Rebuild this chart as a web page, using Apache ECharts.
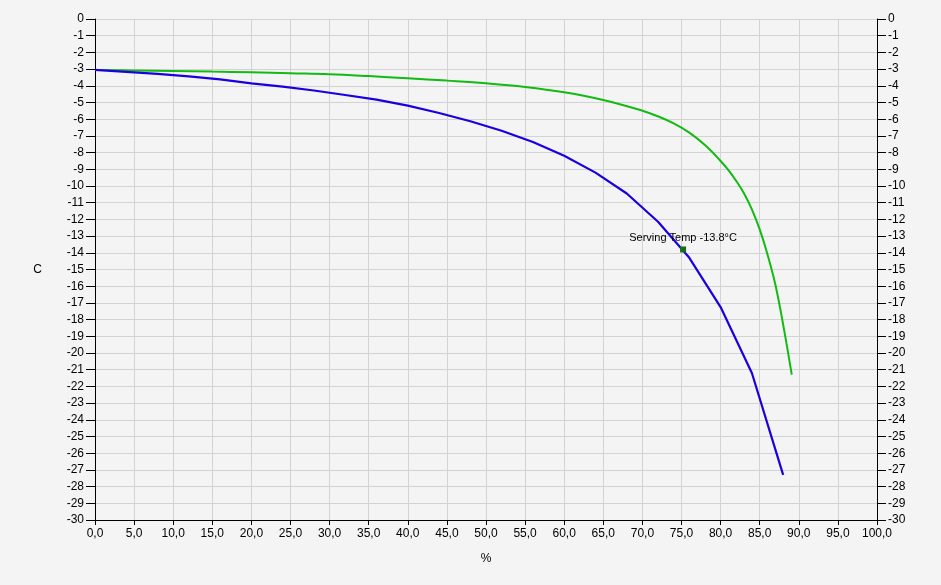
<!DOCTYPE html>
<html><head><meta charset="utf-8">
<script src="https://cdn.jsdelivr.net/npm/echarts@6/dist/echarts.min.js"></script>
<style>html,body{margin:0;padding:0;background:#f4f4f4;}#c{width:941px;height:585px;}</style>
</head><body><div id="c"></div>
<script>
const blueX = [0,4,8,12,16,20,24,28,32,36,40,44,48,52,56,60,64,68,72,76,80,84,88];
const blueY = [-3.05,-3.17,-3.29,-3.44,-3.62,-3.85,-4.05,-4.28,-4.55,-4.83,-5.19,-5.63,-6.12,-6.69,-7.36,-8.19,-9.2,-10.45,-12.14,-14.3,-17.25,-21.2,-27.3];
const greenX = [0,5,10,15,20,25,30,35,40,45,50,55,60,65,70,72,74,76,78,80,81,82,83,84,85,86,87,88,89.1];
const greenY = [-3.05,-3.08,-3.11,-3.15,-3.19,-3.25,-3.31,-3.42,-3.55,-3.69,-3.85,-4.07,-4.39,-4.85,-5.49,-5.83,-6.25,-6.8,-7.55,-8.5,-9.05,-9.7,-10.45,-11.4,-12.6,-14.1,-15.9,-18.3,-21.3];
const servingX = 75.2;
const servingY = -13.8;
const servingLabel = 'Serving Temp -13.8°C';
const xAxisName = '%';
const yAxisName = 'C';

const chart = echarts.init(document.getElementById('c'), null, {renderer:'canvas'});
const font = 'Liberation Sans';
const yAxisCommon = {
  type:'value', min:-30, max:0, interval:1,
  axisLine:{show:true, lineStyle:{color:'#000', width:1}},
  axisTick:{show:true, length:9, lineStyle:{color:'#000'}},
  axisLabel:{color:'#000', fontFamily:font, fontSize:12, margin:11},
};
chart.setOption({
  backgroundColor:'#f4f4f4',
  animation:false,
  grid:{left:95, right:64, top:19, bottom:65, containLabel:false},
  xAxis:{
    type:'value', min:0, max:100, interval:5,
    name:xAxisName, nameLocation:'middle', nameGap:33,
    nameTextStyle:{color:'#000', fontFamily:font, fontSize:12},
    axisLine:{show:true, onZero:false, lineStyle:{color:'#000'}},
    axisTick:{show:true, length:5, lineStyle:{color:'#000'}},
    axisLabel:{color:'#000', fontFamily:font, fontSize:12, margin:8,
      formatter:v=>v.toFixed(1).replace('.', ',')},
    splitLine:{show:true, lineStyle:{color:'#d3d3d3', width:1}}
  },
  yAxis:[
    Object.assign({}, yAxisCommon, {position:'left',
      name:yAxisName, nameLocation:'middle', nameGap:53, nameRotate:0,
      nameTextStyle:{color:'#000', fontFamily:font, fontSize:12},
      splitLine:{show:true, lineStyle:{color:'#d3d3d3', width:1}}}),
    Object.assign({}, yAxisCommon, {position:'right', splitLine:{show:false}})
  ],
  series:[
    {type:'line', data:greenX.map((x,i)=>[x,greenY[i]]), smooth:0.4, showSymbol:false,
      lineStyle:{color:'#11bb11', width:2}, z:2},
    {type:'line', data:blueX.map((x,i)=>[x,blueY[i]]), smooth:false, showSymbol:false,
      lineStyle:{color:'#1a00e0', width:2.2}, z:3},
    {type:'scatter', data:[[servingX, servingY]], symbol:'rect', symbolSize:6,
      itemStyle:{color:'#1a6e1a', opacity:1}, z:4,
      label:{show:true, position:'top', distance:3, formatter:servingLabel,
        color:'#000', fontFamily:font, fontSize:11}}
  ]
});
</script></body></html>
